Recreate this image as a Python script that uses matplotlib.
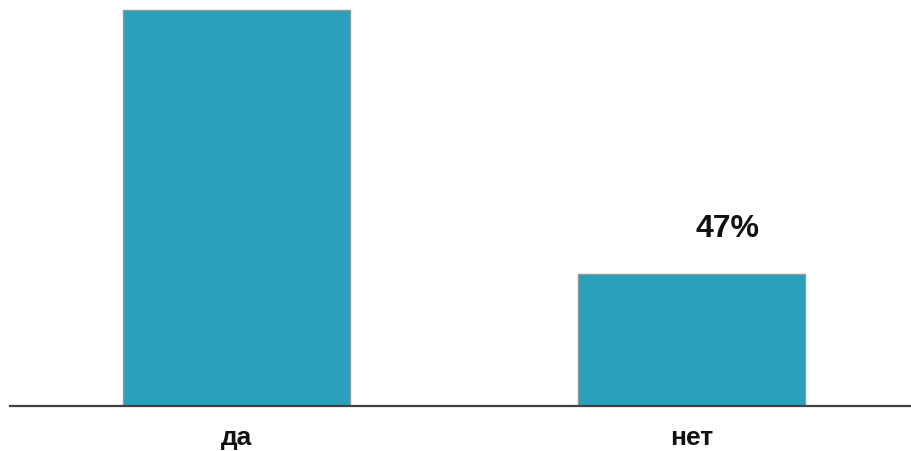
import matplotlib.pyplot as plt

categories = ['да', 'нет']
values = [53, 47]
labels = [None, '47%']  # the label of the first bar lies above the visible area

plt.rcParams['font.family'] = ['Liberation Sans', 'DejaVu Sans']

fig = plt.figure(figsize=(9.11, 4.52), dpi=100)
ax = fig.add_axes([10 / 911, 45 / 452, 901 / 911, 407 / 452])

x = range(len(categories))
bars = ax.bar(x, values, width=0.5, color='#2ba0bd', edgecolor='#8a9a9e', linewidth=1.0)

ax.set_xlim(-0.498, 1.482)
ax.set_ylim(44, 53.25)

# value labels above the bars
for bar, label in zip(bars, labels):
    if label is None:
        continue
    ax.annotate(label, (bar.get_x() + bar.get_width() / 2, bar.get_height()),
                xytext=(26, 33), textcoords='offset points', ha='center', va='center',
                fontsize=23, fontweight='bold', color='#111111')

ax.set_xticks(list(x))
ax.set_xticklabels(categories, fontsize=19, fontweight='bold', color='#111111')
ax.tick_params(axis='x', length=0, pad=14)
ax.set_yticks([])

for side in ['top', 'right', 'left']:
    ax.spines[side].set_visible(False)
ax.spines['bottom'].set_color('#404040')
ax.spines['bottom'].set_linewidth(1.6)

fig.savefig('out.png', dpi=100)
